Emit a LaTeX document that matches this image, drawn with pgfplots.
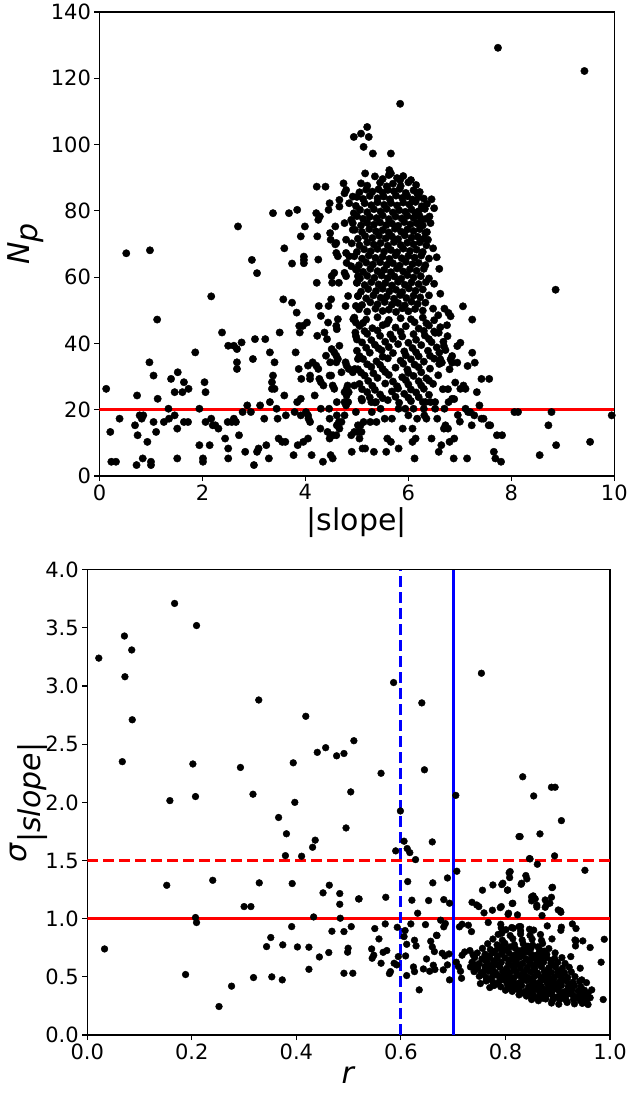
\documentclass[border=0pt]{standalone}
\usepackage{pgfplots}
\pgfplotsset{compat=1.18}
\usepackage{fontspec}
\setmainfont{DejaVu Sans}
\begin{document}
\begin{tikzpicture}
\path[use as bounding box] (0,0) rectangle (631pt,-1097pt);
\pgfplotsset{
  common/.style={
    scale only axis,
    anchor=south west,
    tick align=outside,
    xtick pos=left, ytick pos=left,
    major tick length=5pt,
    tick style={black, line width=1.1pt},
    axis line style={line width=1.1pt},
    ticklabel style={font=\fontsize{21}{25}\selectfont},
    /pgf/number format/assume math mode=true,
    label style={font=\fontsize{30}{36}\selectfont},
  }
}
% ---------------- TOP PANEL ----------------
\begin{axis}[common,
  at={(99.5pt,-476pt)}, width=514.8pt, height=464pt,
  xmin=0, xmax=10, ymin=0, ymax=140,
  xtick={0,2,...,10}, ytick={0,20,...,140},
  xlabel={|slope|},
  ylabel={\textit{N}$_{\textit{p}}$},
]
\addplot[only marks, mark=*, mark size=3.7pt, black] table[row sep=\\] {
x y\\
0.13 26.3\\ 0.21 13.3\\ 0.39 17.3\\ 0.23 4.3\\ 0.32 4.3\\ 0.52 67.2\\ 0.69 15.3\\ 0.73 24.3\\ 0.74 12.3\\ 0.78 18.3\\
0.82 17.3\\ 0.85 18.3\\ 0.72 3.3\\ 0.84 5.3\\ 0.93 10.3\\ 0.97 34.3\\ 1.0 4.3\\ 1.0 3.3\\ 1.05 30.3\\ 1.05 16.3\\
1.10 13.3\\ 1.13 23.3\\ 1.12 47.2\\ 0.98 68.1\\ 1.25 16.3\\ 1.34 20.3\\ 1.35 17.3\\ 1.39 29.3\\ 1.46 25.3\\ 1.46 18.3\\
1.52 31.3\\ 1.51 14.3\\ 1.51 5.3\\ 1.61 25.3\\ 1.64 28.3\\ 1.64 16.3\\ 1.72 16.3\\ 1.73 26.3\\ 1.86 37.3\\ 1.94 20.3\\
1.94 9.3\\ 2.01 5.3\\ 2.01 4.3\\ 2.04 28.3\\ 2.06 25.3\\ 2.06 16.3\\ 2.14 9.3\\ 2.17 17.3\\ 2.17 54.2\\ 2.2 15.3\\
2.25 15.3\\ 2.31 14.3\\ 2.38 43.3\\ 2.44 11.3\\ 2.49 16.3\\ 2.57 16.3\\ 2.61 17.3\\ 2.65 16.3\\ 2.5 39.3\\ 2.61 39.3\\
2.67 38.3\\ 2.76 40.3\\ 2.67 34.3\\ 2.67 32.3\\ 2.5 8.3\\ 2.5 5.3\\ 2.69 75.3\\ 2.71 12.3\\ 2.78 19.3\\ 2.87 21.3\\
2.94 19.3\\ 2.83 7.3\\ 2.96 65.2\\ 2.98 35.3\\ 3.0 3.3\\ 3.02 41.3\\ 3.06 61.2\\ 3.06 7.3\\ 3.09 8.3\\ 3.12 21.3\\
3.2 17.3\\ 3.22 41.3\\ 3.24 9.3\\ 3.29 5.3\\ 3.31 37.3\\ 3.31 22.3\\ 3.35 26.3\\ 3.35 28.3\\ 3.37 30.3\\ 3.40 26.3\\
3.4 34.3\\ 3.37 79.3\\ 3.44 20.3\\ 3.46 17.3\\ 3.48 11.3\\ 3.55 10.3\\ 3.61 10.3\\ 3.5 43.3\\ 3.57 53.3\\ 3.59 24.3\\
3.59 68.7\\ 3.62 18.3\\ 3.68 79.3\\ 3.74 52.3\\ 3.74 64.1\\ 3.77 6.3\\ 3.79 19.3\\ 3.81 37.3\\ 3.83 49.3\\ 3.84 22.3\\
3.84 80.3\\ 3.85 9.3\\ 3.87 32.3\\ 3.89 43.3\\ 3.88 45.3\\ 3.95 45.3\\ 3.97 66.2\\ 3.97 65.2\\ 3.97 64.2\\ 3.99 75.3\\
3.91 72.3\\ 3.91 23.3\\ 3.92 29.3\\ 3.91 18.3\\ 4.01 19.3\\ 4.05 18.3\\ 4.06 17.3\\ 4.09 16.3\\ 3.96 10.3\\ 4.05 11.3\\
4.03 46.3\\ 4.05 33.3\\ 4.09 30.3\\ 4.09 29.3\\ 4.12 6.3\\ 4.14 34.3\\ 4.21 33.3\\ 4.18 24.3\\ 4.21 79.3\\ 4.22 87.3\\
4.22 58.3\\ 4.23 42.3\\ 4.23 72.3\\ 4.25 32.3\\ 4.25 65.3\\ 4.26 51.3\\ 4.27 29.3\\ 4.28 78.3\\ 4.25 77.3\\
4.3 28.3\\ 4.3 20.3\\ 4.29 14.3\\ 4.3 48.3\\ 4.34 4.3\\ 4.37 43.3\\ 4.35 27.3\\ 4.39 87.3\\ 4.4 36.3\\ 4.42 41.3\\
4.43 13.3\\ 4.47 11.3\\ 4.5 12.3\\ 4.54 12.3\\ 4.6 12.3\\ 4.44 46.3\\ 4.45 51.3\\ 4.5 53.3\\ 4.45 80.3\\ 4.46 20.3\\
4.47 82.3\\ 4.47 30.3\\ 4.5 30.3\\ 4.47 17.3\\ 4.48 34.3\\ 4.48 73.3\\ 4.49 6.3\\ 4.53 5.3\\ 4.49 71.3\\ 4.51 60.3\\
4.56 61.3\\ 4.51 38.3\\ 4.56 37.3\\ 4.6 36.3\\ 4.63 35.3\\ 4.6 34.3\\ 4.53 27.3\\ 4.56 26.3\\ 4.52 58.3\\ 4.65 58.3\\
4.58 69.9\\ 4.6 67.3\\ 4.63 66.3\\ 4.6 45.3\\ 4.61 44.3\\ 4.61 22.3\\ 4.61 18.3\\ 4.65 16.3\\ 4.61 15.3\\ 4.66 14.3\\
4.7 16.3\\ 4.63 47.3\\ 4.66 39.3\\ 4.7 31.3\\ 4.58 75.3\\ 4.6 70.3\\ 4.66 83.3\\ 4.66 81.3\\ 4.74 88.3\\ 4.79 86.3\\
4.76 85.3\\ 4.76 76.3\\ 4.76 61.3\\ 4.79 60.3\\ 4.78 51.3\\ 4.76 25.3\\ 4.8 24.3\\ 4.84 25.3\\ 4.76 22.3\\ 4.83 22.3\\
4.79 21.3\\ 4.76 18.3\\ 4.78 34.3\\ 4.8 33.3\\ 4.84 32.3\\ 4.82 27.3\\ 4.8 26.3\\ 4.83 54.3\\ 4.8 64.3\\ 4.85 66.3\\
4.89 63.3\\ 4.79 67.3\\ 4.79 71.3\\ 4.85 82.3\\ 4.89 77.3\\ 4.9 7.3\\ 4.89 12.3\\ 4.95 13.3\\ 4.92 31.3\\ 4.96 32.3\\
4.97 43.3\\ 4.98 46.3\\ 4.93 47.3\\ 4.95 27.3\\ 4.98 51.3\\ 5.02 54.3\\ 5.0 58.3\\ 5.02 60.3\\ 5.0 62.3\\ 5.02 35.3\\
5.02 15.3\\ 4.98 19.3\\ 4.92 84.3\\ 4.92 76.3\\ 4.92 74.3\\ 4.94 79.3\\ 4.94 102.3\\
7.74 129.2\\ 9.42 122.2\\ 5.84 112.3\\ 5.2 105.3\\ 5.08 103.3\\ 5.23 102.3\\ 5.13 99.3\\ 5.31 97.3\\ 5.66 97.3\\ 5.16 91.3\\
5.63 92.3\\ 5.66 91.3\\ 5.84 89.3\\ 6.17 85.3\\ 6.08 83.3\\ 6.14 79.3\\ 6.41 78.3\\ 6.43 76.3\\ 6.25 77.3\\ 6.38 71.3\\
6.48 68.7\\ 6.33 73.3\\
8.86 56.2\\ 7.06 51.2\\ 7.24 47.2\\ 6.78 49.2\\ 6.82 48.2\\ 6.76 42.2\\ 6.52 43.2\\ 6.59 43.2\\ 7.01 40.2\\ 6.95 39.2\\
6.69 39.2\\ 7.24 37.2\\ 7.29 34.2\\ 7.15 33.2\\ 6.85 36.2\\ 6.82 35.2\\ 6.85 34.2\\ 6.8 32.2\\ 6.95 34.2\\ 6.62 35.2\\
6.65 34.2\\ 7.42 29.3\\ 7.57 29.3\\ 6.91 28.2\\ 7.07 27.3\\ 7.11 26.3\\ 7.01 26.3\\ 7.33 25.3\\ 6.77 26.2\\ 6.67 26.2\\
6.89 23.2\\ 6.85 23.3\\ 6.78 22.3\\ 7.38 21.3\\ 7.11 20.3\\ 7.16 19.3\\ 7.2 19.3\\ 6.96 18.4\\ 7.0 16.4\\ 7.28 18.3\\
7.23 15.3\\ 7.42 17.3\\ 7.46 17.3\\ 7.56 15.3\\ 7.59 15.3\\ 7.72 12.3\\ 7.82 12.3\\ 7.66 7.3\\ 7.69 5.3\\ 7.8 4.3\\
8.06 19.3\\ 8.13 19.3\\ 8.78 19.3\\ 8.72 15.3\\ 8.87 9.3\\ 8.55 6.3\\ 9.53 10.3\\ 9.95 18.3\\ 7.14 5.3\\ 6.88 5.3\\
6.59 7.3\\ 6.64 9.3\\ 6.8 10.3\\ 6.89 11.3\\ 6.45 11.3\\ 6.12 5.3\\ 6.08 10.3\\ 6.14 11.3\\ 5.89 14.3\\ 6.08 14.3\\
5.81 8.3\\ 5.57 7.3\\ 5.33 7.3\\ 5.11 8.3\\ 5.16 8.3\\ 5.59 11.3\\ 5.66 10.3\\ 5.05 11.3\\ 5.01 13.3\\ 5.09 13.3\\
5.07 15.3\\ 5.13 16.3\\ 5.26 16.3\\ 5.38 16.3\\ 5.54 17.3\\ 5.68 17.3\\ 5.29 19.3\\ 5.09 23.3\\ 5.28 22.3\\ 5.37 22.3\\
5.46 20.3\\ 5.81 20.3\\ 6.0 18.3\\ 6.17 17.3\\ 6.31 18.3\\ 6.35 17.3\\ 6.56 17.3\\ 6.69 14.3\\ 6.72 15.3\\ 6.77 14.3\\
6.52 20.3\\ 6.7 20.3\\ 6.33 22.3\\ 6.43 22.3\\ 6.52 22.3\\ 6.1 20.3\\ 6.3 20.3\\ 5.94 20.3\\
5.35 90.4\\ 5.5 89.6\\ 5.62 90.8\\ 5.78 89.9\\ 5.9 90.5\\ 6.05 89.3\\
5.08 88.3\\ 5.2 87.6\\ 5.45 88.5\\ 5.58 87.4\\ 5.7 88.2\\ 5.85 87.5\\ 6.0 88.6\\ 6.15 87.8\\
5.05 85.6\\ 5.18 86.4\\ 5.3 85.8\\ 5.42 86.5\\ 5.5 85.5\\ 5.6 86.3\\ 5.72 85.9\\ 5.83 86.6\\ 5.95 85.4\\ 6.1 86.2\\ 6.22 85.7\\
5.0 84.2\\ 5.12 83.6\\ 5.25 84.5\\ 5.4 83.8\\ 5.52 84.3\\ 5.64 83.5\\ 5.76 84.6\\ 5.88 83.9\\ 5.98 84.4\\ 6.08 83.4\\ 6.2 84.1\\ 6.3 83.7\\
4.98 81.5\\ 5.15 82.3\\ 5.28 81.7\\ 5.4 82.6\\ 5.53 81.8\\ 5.66 82.4\\ 5.78 81.6\\ 5.9 82.5\\ 6.02 81.9\\ 6.14 82.7\\ 6.26 81.4\\ 6.36 82.1\\
5.06 80.3\\ 5.2 79.6\\ 5.33 80.5\\ 5.46 79.8\\ 5.58 80.6\\ 5.7 79.5\\ 5.82 80.2\\ 5.94 79.7\\ 6.06 80.4\\ 6.2 79.9\\ 6.32 80.6\\
5.0 78.4\\ 5.12 77.6\\ 5.25 78.2\\ 5.38 77.8\\ 5.5 78.6\\ 5.62 77.5\\ 5.75 78.3\\ 5.87 77.7\\ 5.98 78.5\\ 6.1 77.9\\ 6.22 78.4\\ 6.34 77.6\\
5.08 75.6\\ 5.2 76.4\\ 5.33 75.8\\ 5.45 76.5\\ 5.57 75.7\\ 5.68 76.2\\ 5.8 75.5\\ 5.92 76.6\\ 6.04 75.9\\ 6.16 76.3\\ 6.28 75.6\\
4.96 74.3\\ 5.1 73.6\\ 5.24 74.5\\ 5.37 73.8\\ 5.5 74.2\\ 5.62 73.5\\ 5.74 74.6\\ 5.86 73.7\\ 5.98 74.4\\ 6.1 73.9\\ 6.22 74.5\\ 6.36 73.6\\
5.02 71.6\\ 5.16 72.4\\ 5.3 71.8\\ 5.43 72.5\\ 5.56 71.7\\ 5.68 72.3\\ 5.8 71.5\\ 5.93 72.6\\ 6.06 71.9\\ 6.18 72.2\\ 6.3 71.6\\
4.9 70.2\\ 5.05 69.6\\ 5.2 70.5\\ 5.33 69.8\\ 5.46 70.3\\ 5.6 69.5\\ 5.72 70.6\\ 5.85 69.7\\ 5.98 70.4\\ 6.1 69.9\\ 6.22 70.5\\ 6.35 69.6\\
5.0 67.6\\ 5.14 68.4\\ 5.27 67.8\\ 5.4 68.5\\ 5.53 67.7\\ 5.66 68.2\\ 5.78 67.5\\ 5.9 68.6\\ 6.03 67.9\\ 6.16 68.3\\ 6.28 67.6\\
4.95 66.3\\ 5.1 65.6\\ 5.23 66.5\\ 5.36 65.8\\ 5.5 66.2\\ 5.63 65.5\\ 5.75 66.6\\ 5.87 65.7\\ 6.0 66.4\\ 6.12 65.9\\ 6.25 66.5\\ 6.4 65.6\\
5.04 63.6\\ 5.18 64.4\\ 5.31 63.8\\ 5.45 64.5\\ 5.58 63.7\\ 5.7 64.2\\ 5.83 63.5\\ 5.95 64.6\\ 6.08 63.9\\ 6.2 64.3\\ 6.33 63.6\\
4.98 62.3\\ 5.12 61.6\\ 5.26 62.5\\ 5.4 61.8\\ 5.53 62.2\\ 5.66 61.5\\ 5.78 62.6\\ 5.9 61.7\\ 6.03 62.4\\ 6.16 61.9\\ 6.3 62.5\\
5.06 59.6\\ 5.2 60.4\\ 5.34 59.8\\ 5.48 60.5\\ 5.6 59.7\\ 5.73 60.2\\ 5.86 59.5\\ 5.98 60.6\\ 6.1 59.9\\ 6.24 60.3\\ 6.4 59.6\\
5.0 58.3\\ 5.15 57.6\\ 5.28 58.5\\ 5.42 57.8\\ 5.55 58.2\\ 5.68 57.5\\ 5.8 58.6\\ 5.93 57.7\\ 6.06 58.4\\ 6.2 57.9\\ 6.34 58.5\\
5.08 55.6\\ 5.22 56.4\\ 5.37 55.8\\ 5.5 56.5\\ 5.63 55.7\\ 5.76 56.2\\ 5.88 55.5\\ 6.01 56.6\\ 6.14 55.9\\ 6.28 56.3\\
5.02 54.3\\ 5.18 53.6\\ 5.32 54.5\\ 5.46 53.8\\ 5.58 54.2\\ 5.72 53.5\\ 5.84 54.6\\ 5.96 53.7\\ 6.1 54.4\\ 6.23 53.9\\ 6.4 54.5\\
5.1 51.6\\ 5.26 52.4\\ 5.4 51.8\\ 5.54 52.5\\ 5.68 51.7\\ 5.8 52.2\\ 5.93 51.5\\ 6.06 52.6\\ 6.18 51.9\\ 6.33 52.3\\
5.04 50.3\\ 5.2 49.6\\ 5.36 50.5\\ 5.5 49.8\\ 5.62 50.2\\ 5.76 49.5\\ 5.88 50.6\\ 6.0 49.7\\ 6.13 50.4\\ 6.28 49.9\\ 6.48 50.5\\
4.95 47.8\\ 5.18 47.2\\ 5.4 47.9\\ 5.62 47.1\\ 5.85 47.6\\ 6.05 47.3\\ 6.28 47.8\\ 6.5 47.0\\
5.05 45.3\\ 5.3 44.6\\ 5.5 45.5\\ 5.75 44.8\\ 5.95 45.2\\ 6.2 44.5\\ 6.4 45.4\\ 6.62 44.9\\
4.98 42.2\\ 5.2 42.9\\ 5.45 42.3\\ 5.65 42.7\\ 5.88 42.1\\ 6.1 42.8\\ 6.32 42.4\\
5.1 40.3\\ 5.35 39.6\\ 5.55 40.5\\ 5.8 39.8\\ 6.0 40.2\\ 6.25 39.5\\ 6.45 40.4\\
5.0 37.8\\ 5.25 37.2\\ 5.48 37.9\\ 5.7 37.1\\ 5.92 37.6\\ 6.15 37.3\\ 6.38 37.8\\ 6.6 37.2\\
5.12 35.3\\ 5.38 34.6\\ 5.6 35.5\\ 5.85 34.8\\ 6.05 35.2\\ 6.3 34.5\\ 6.5 35.4\\
5.02 32.2\\ 5.28 32.9\\ 5.5 32.3\\ 5.75 32.7\\ 5.98 32.1\\ 6.2 32.8\\ 6.42 32.4\\
5.15 30.3\\ 5.4 29.6\\ 5.62 30.5\\ 5.88 29.8\\ 6.1 30.2\\ 6.35 29.5\\ 6.58 30.4\\
5.05 27.8\\ 5.3 27.2\\ 5.55 27.9\\ 5.78 27.1\\ 6.0 27.6\\ 6.25 27.3\\ 6.48 27.8\\
5.2 25.3\\ 5.45 24.6\\ 5.68 25.5\\ 5.92 24.8\\ 6.15 25.2\\ 6.4 24.5\\
5.1 22.8\\ 5.35 22.2\\ 5.6 22.9\\ 5.82 22.1\\ 6.05 22.6\\ 6.28 22.3\\
6.55 66\\ 6.6 62.5\\ 6.5 58\\ 6.62 55\\ 6.7 50.5\\ 6.58 48.5\\ 6.75 45.5\\ 6.68 40.5\\ 6.72 38.0\\ 6.45 83.5\\ 6.5 80.8\\
5.12 46.2\\ 5.58 46.0\\ 6.12 46.4\\ 6.35 46.1\\
5.15 43.7\\ 5.4 43.9\\ 5.85 43.5\\ 6.3 43.8\\ 6.5 43.6\\
5.0 41.2\\ 5.28 41.0\\ 5.7 41.4\\ 6.15 41.1\\ 6.4 41.3\\
5.18 38.7\\ 5.42 38.5\\ 5.62 38.9\\ 6.08 38.6\\ 6.55 38.8\\
5.05 36.2\\ 5.5 36.0\\ 5.95 36.4\\ 6.2 36.1\\ 6.42 36.3\\
5.2 33.7\\ 5.45 33.5\\ 5.9 33.9\\ 6.12 33.6\\ 6.6 33.8\\
5.08 31.2\\ 5.32 31.0\\ 5.55 31.4\\ 6.0 31.1\\ 6.25 31.3\\
5.22 28.7\\ 5.7 28.5\\ 5.95 28.9\\ 6.2 28.6\\ 6.4 28.8\\
5.1 26.2\\ 5.35 26.0\\ 5.8 26.4\\ 6.05 26.1\\ 6.3 26.3\\
5.25 23.7\\ 5.5 23.5\\ 5.75 23.9\\ 6.0 23.6\\ 6.2 23.8\\
};
\addplot[red, line width=3pt] coordinates {(0,20) (10,20)};
\end{axis}
% ---------------- BOTTOM PANEL ----------------
\begin{axis}[common,
  at={(87.3pt,-1035pt)}, width=522.7pt, height=465.3pt,
  xmin=0, xmax=1, ymin=0, ymax=4,
  xtick={0,0.2,...,1.0}, ytick={0,0.5,...,4.0},
  xticklabel style={/pgf/number format/.cd, fixed, fixed zerofill, precision=1},
  yticklabel style={/pgf/number format/.cd, fixed, fixed zerofill, precision=1},
  xlabel={\textit{r}},
  ylabel={\textit{σ}$_{\textit{|slope|}}$},
  ylabel shift=-9pt,
]
\addplot[only marks, mark=*, mark size=3.4pt, black] table[row sep=\\] {
x y\\
0.022 3.24\\ 0.167 3.71\\ 0.209 3.52\\ 0.071 3.43\\ 0.085 3.31\\ 0.072 3.08\\ 0.086 2.71\\ 0.328 2.88\\ 0.418 2.74\\ 0.510 2.53\\
0.456 2.47\\ 0.44 2.43\\ 0.477 2.40\\ 0.491 2.42\\ 0.067 2.35\\ 0.202 2.33\\ 0.293 2.30\\ 0.394 2.34\\ 0.158 2.015\\ 0.207 2.05\\
0.317 2.07\\ 0.397 2.00\\ 0.504 2.09\\
0.754 3.11\\ 0.586 3.03\\ 0.640 2.855\\ 0.645 2.28\\ 0.562 2.25\\ 0.833 2.22\\ 0.888 2.13\\ 0.895 2.13\\ 0.705 2.06\\ 0.854 2.055\\
0.366 1.87\\ 0.381 1.73\\ 0.495 1.78\\ 0.436 1.675\\ 0.431 1.614\\ 0.379 1.542\\ 0.410 1.537\\ 0.152 1.287\\ 0.240 1.33\\ 0.329 1.308\\
0.392 1.302\\ 0.451 1.222\\ 0.463 1.288\\ 0.483 1.216\\ 0.483 1.124\\ 0.519 1.17\\ 0.300 1.104\\ 0.313 1.104\\ 0.207 1.01\\ 0.209 0.967\\
0.433 1.015\\ 0.484 1.004\\ 0.391 0.932\\ 0.505 0.932\\ 0.468 0.892\\ 0.491 0.889\\ 0.033 0.74\\ 0.351 0.838\\ 0.343 0.76\\ 0.374 0.775\\
0.402 0.757\\ 0.424 0.755\\ 0.499 0.746\\ 0.498 0.712\\ 0.462 0.709\\ 0.444 0.671\\ 0.424 0.565\\ 0.491 0.531\\ 0.508 0.531\\ 0.188 0.52\\
0.318 0.494\\ 0.353 0.5\\ 0.373 0.474\\ 0.276 0.42\\ 0.252 0.245\\
0.599 1.926\\ 0.606 1.666\\ 0.66 1.66\\ 0.59 1.583\\ 0.612 1.603\\ 0.617 1.568\\ 0.628 1.508\\ 0.907 1.843\\ 0.826 1.706\\ 0.866 1.729\\
0.846 1.517\\ 0.861 1.468\\ 0.894 1.54\\ 0.952 1.416\\ 0.707 1.408\\ 0.689 1.35\\ 0.613 1.319\\ 0.661 1.308\\ 0.807 1.394\\ 0.808 1.353\\
0.839 1.371\\ 0.841 1.342\\ 0.83 1.296\\ 0.776 1.29\\ 0.793 1.293\\ 0.804 1.245\\ 0.756 1.245\\ 0.889 1.267\\ 0.52 1.17\\ 0.571 1.184\\
0.621 1.159\\ 0.653 1.156\\ 0.682 1.164\\ 0.693 1.133\\ 0.85 1.187\\ 0.857 1.17\\ 0.813 1.13\\ 0.876 1.161\\ 0.879 1.124\\ 0.888 1.184\\
0.736 1.141\\ 0.745 1.118\\ 0.749 1.104\\ 0.86 1.10\\ 0.905 1.067\\ 0.632 1.047\\ 0.759 1.05\\ 0.775 1.073\\ 0.79 1.095\\ 0.806 1.047\\
0.823 1.033\\ 0.87 1.027\\ 0.55 0.915\\ 0.57 0.955\\ 0.593 0.926\\ 0.608 0.898\\ 0.619 0.955\\ 0.647 0.949\\ 0.668 0.858\\ 0.676 0.987\\
0.682 0.93\\ 0.685 0.958\\ 0.712 0.93\\ 0.717 0.952\\ 0.729 0.944\\ 0.735 0.889\\ 0.767 0.967\\ 0.791 0.952\\ 0.792 0.921\\ 0.812 0.924\\
0.826 0.932\\ 0.88 0.938\\ 0.907 0.927\\ 0.906 0.9\\ 0.928 0.955\\ 0.935 0.915\\ 0.989 0.823\\ 0.948 0.809\\ 0.935 0.809\\ 0.934 0.766\\
0.962 0.752\\ 0.983 0.626\\ 0.987 0.305\\ 0.558 0.826\\ 0.544 0.74\\ 0.573 0.726\\ 0.566 0.711\\ 0.545 0.66\\ 0.548 0.686\\ 0.562 0.617\\
0.578 0.528\\ 0.58 0.545\\ 0.587 0.617\\ 0.592 0.603\\ 0.595 0.674\\ 0.609 0.68\\ 0.611 0.511\\ 0.606 0.846\\ 0.611 0.78\\ 0.626 0.815\\
0.629 0.766\\ 0.624 0.585\\ 0.626 0.545\\ 0.635 0.388\\ 0.643 0.568\\ 0.649 0.654\\ 0.657 0.806\\ 0.66 0.757\\ 0.664 0.717\\ 0.655 0.548\\
0.662 0.6\\ 0.665 0.563\\ 0.669 0.855\\ 0.679 0.703\\ 0.684 0.68\\ 0.692 0.697\\ 0.681 0.56\\ 0.689 0.603\\ 0.693 0.474\\ 0.706 0.626\\
0.71 0.588\\ 0.714 0.548\\ 0.722 0.714\\ 0.717 0.686\\ 0.732 0.726\\ 0.716 0.488\\ 0.738 0.689\\ 0.742 0.56\\ 0.747 0.597\\ 0.752 0.442\\
0.77 0.408\\
0.809 1.405\\ 0.795 1.305\\ 0.804 1.247\\ 0.831 1.305\\ 0.853 1.196\\ 0.85 1.153\\ 0.86 1.116\\ 0.876 1.098\\ 0.885 1.133\\ 0.89 1.27\\
0.901 1.075\\ 0.906 1.055\\ 0.814 1.133\\ 0.792 1.104\\ 0.805 1.038\\ 0.847 1.514\\ 0.828 1.706\\ 0.846 0.909\\ 0.829 0.932\\ 0.815 0.918\\
0.793 0.875\\ 0.933 0.817\\ 0.925 0.674\\ 0.943 0.574\\ 0.946 0.474\\ 0.965 0.388\\ 0.955 0.45\\ 0.962 0.32\\ 0.958 0.36\\
0.888 0.275\\ 0.902 0.265\\ 0.918 0.28\\ 0.932 0.268\\ 0.947 0.272\\ 0.958 0.262\\
0.85 0.305\\ 0.863 0.295\\ 0.877 0.31\\ 0.89 0.298\\ 0.904 0.307\\ 0.917 0.292\\ 0.93 0.304\\ 0.943 0.296\\ 0.956 0.302\\
0.826 0.345\\ 0.84 0.335\\ 0.853 0.348\\ 0.866 0.338\\ 0.878 0.343\\ 0.891 0.332\\ 0.904 0.347\\ 0.916 0.336\\ 0.929 0.344\\ 0.941 0.334\\ 0.953 0.342\\
0.80 0.385\\ 0.813 0.375\\ 0.826 0.388\\ 0.839 0.377\\ 0.852 0.384\\ 0.865 0.373\\ 0.877 0.387\\ 0.889 0.376\\ 0.902 0.383\\ 0.914 0.374\\ 0.927 0.386\\ 0.939 0.378\\ 0.951 0.385\\
0.778 0.425\\ 0.791 0.415\\ 0.804 0.428\\ 0.818 0.417\\ 0.831 0.424\\ 0.844 0.413\\ 0.857 0.427\\ 0.869 0.416\\ 0.882 0.423\\ 0.895 0.414\\ 0.907 0.426\\ 0.92 0.418\\ 0.932 0.425\\ 0.944 0.415\\
0.763 0.465\\ 0.776 0.455\\ 0.789 0.468\\ 0.802 0.457\\ 0.815 0.464\\ 0.828 0.453\\ 0.841 0.467\\ 0.854 0.456\\ 0.867 0.463\\ 0.879 0.454\\ 0.892 0.466\\ 0.904 0.458\\ 0.917 0.465\\ 0.929 0.455\\ 0.942 0.462\\
0.75 0.505\\ 0.763 0.495\\ 0.776 0.508\\ 0.789 0.497\\ 0.803 0.504\\ 0.816 0.493\\ 0.829 0.507\\ 0.842 0.496\\ 0.855 0.503\\ 0.868 0.494\\ 0.881 0.506\\ 0.894 0.498\\ 0.906 0.505\\ 0.919 0.495\\ 0.933 0.502\\
0.74 0.545\\ 0.754 0.535\\ 0.768 0.548\\ 0.781 0.537\\ 0.795 0.544\\ 0.808 0.533\\ 0.821 0.547\\ 0.834 0.536\\ 0.848 0.543\\ 0.861 0.534\\ 0.874 0.546\\ 0.888 0.538\\ 0.9 0.545\\ 0.913 0.535\\ 0.926 0.542\\
0.733 0.585\\ 0.747 0.575\\ 0.761 0.588\\ 0.775 0.577\\ 0.789 0.584\\ 0.802 0.573\\ 0.816 0.587\\ 0.829 0.576\\ 0.842 0.583\\ 0.856 0.574\\ 0.869 0.586\\ 0.883 0.578\\ 0.896 0.585\\ 0.909 0.575\\ 0.922 0.582\\
0.736 0.625\\ 0.75 0.615\\ 0.764 0.628\\ 0.779 0.617\\ 0.792 0.624\\ 0.806 0.613\\ 0.819 0.627\\ 0.833 0.616\\ 0.846 0.623\\ 0.859 0.614\\ 0.873 0.626\\ 0.887 0.618\\ 0.9 0.625\\ 0.914 0.615\\
0.741 0.665\\ 0.755 0.655\\ 0.769 0.668\\ 0.784 0.657\\ 0.799 0.664\\ 0.812 0.653\\ 0.826 0.667\\ 0.839 0.656\\ 0.852 0.663\\ 0.866 0.654\\ 0.879 0.666\\ 0.894 0.658\\ 0.908 0.665\\
0.746 0.705\\ 0.761 0.695\\ 0.777 0.708\\ 0.792 0.697\\ 0.807 0.704\\ 0.821 0.693\\ 0.835 0.707\\ 0.849 0.696\\ 0.864 0.703\\ 0.879 0.694\\ 0.895 0.706\\
0.756 0.745\\ 0.771 0.735\\ 0.787 0.748\\ 0.802 0.737\\ 0.819 0.744\\ 0.834 0.733\\ 0.849 0.747\\ 0.865 0.736\\ 0.883 0.743\\
0.766 0.785\\ 0.784 0.775\\ 0.799 0.788\\ 0.817 0.777\\ 0.834 0.784\\ 0.852 0.773\\ 0.871 0.787\\
0.776 0.825\\ 0.794 0.815\\ 0.814 0.828\\ 0.832 0.817\\ 0.851 0.824\\ 0.869 0.813\\ 0.889 0.826\\
0.786 0.865\\ 0.809 0.855\\ 0.829 0.868\\ 0.847 0.857\\ 0.867 0.864\\
0.801 0.905\\ 0.829 0.895\\ 0.854 0.902\\
0.857 0.322\\ 0.871 0.318\\ 0.897 0.324\\ 0.911 0.317\\ 0.937 0.323\\ 0.95 0.316\\
0.833 0.362\\ 0.846 0.357\\ 0.872 0.363\\ 0.885 0.356\\ 0.91 0.364\\ 0.922 0.358\\ 0.947 0.361\\
0.807 0.402\\ 0.82 0.397\\ 0.846 0.403\\ 0.859 0.396\\ 0.884 0.404\\ 0.896 0.398\\ 0.921 0.402\\ 0.945 0.397\\
0.785 0.442\\ 0.811 0.437\\ 0.825 0.443\\ 0.851 0.438\\ 0.863 0.444\\ 0.889 0.437\\ 0.901 0.443\\ 0.926 0.438\\
0.77 0.482\\ 0.796 0.477\\ 0.809 0.483\\ 0.835 0.476\\ 0.848 0.484\\ 0.874 0.478\\ 0.887 0.482\\ 0.911 0.477\\
0.757 0.522\\ 0.784 0.517\\ 0.797 0.523\\ 0.823 0.516\\ 0.836 0.524\\ 0.862 0.518\\ 0.876 0.522\\ 0.901 0.517\\
0.761 0.562\\ 0.775 0.557\\ 0.802 0.563\\ 0.815 0.556\\ 0.841 0.564\\ 0.855 0.558\\ 0.882 0.562\\ 0.907 0.557\\
0.743 0.602\\ 0.771 0.597\\ 0.785 0.603\\ 0.813 0.596\\ 0.826 0.604\\ 0.853 0.598\\ 0.866 0.602\\ 0.893 0.597\\
0.762 0.642\\ 0.777 0.637\\ 0.806 0.643\\ 0.82 0.636\\ 0.847 0.644\\ 0.86 0.638\\ 0.887 0.642\\
0.77 0.682\\ 0.785 0.677\\ 0.815 0.683\\ 0.829 0.676\\ 0.857 0.684\\ 0.872 0.678\\
0.78 0.722\\ 0.795 0.717\\ 0.827 0.723\\ 0.842 0.716\\ 0.874 0.721\\
0.792 0.762\\ 0.809 0.757\\ 0.843 0.763\\ 0.862 0.758\\
};
\addplot[red, line width=3pt] coordinates {(0,1) (1,1)};
\addplot[red, line width=3pt, dash pattern=on 11pt off 5pt] coordinates {(0,1.5) (1,1.5)};
\addplot[blue, line width=3pt, dash pattern=on 11pt off 5pt] coordinates {(0.6,0) (0.6,4)};
\addplot[blue, line width=3pt] coordinates {(0.7,0) (0.7,4)};
\end{axis}
\end{tikzpicture}
\end{document}
